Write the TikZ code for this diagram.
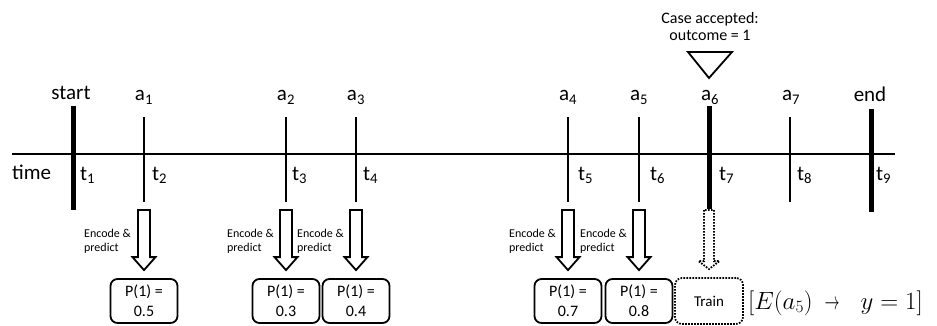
\documentclass[tikz,border=0pt]{standalone}
\usepackage{fontspec}
\setmainfont{Carlito}
\usepackage{tikz}
\usetikzlibrary{calc,positioning}
\tikzstyle{tick} = [line width=2pt]
\tikzstyle{bigtick} = [line width=5pt]
\tikzstyle{lab} = [inner sep=0pt, font=\fontsize{21}{24}\selectfont]
\tikzstyle{enc} = [inner sep=0pt, align=left, font=\fontsize{12}{14}\selectfont]
\tikzstyle{prob} = [draw, line width=1.8pt, rounded corners=7pt, minimum width=67pt, minimum height=44pt, inner sep=1pt, align=center, font=\fontsize{16}{20}\selectfont]
\tikzstyle{blockarrow} = [line width=1.8pt, line join=miter]

% hollow block arrow from a tick bottom down to a box
\newcommand{\encarrow}[3][]{%
  \draw[blockarrow,#1] ($(#2)+(-6,8)$) -- ($(#3.north)+(-6,-21)$) -- ($(#3.north)+(-11.5,-21)$)
    -- ($(#3.north)+(0,-8)$) -- ($(#3.north)+(11.5,-21)$) -- ($(#3.north)+(6,-21)$)
    -- ($(#2)+(6,8)$) -- cycle;}

\begin{document}
\begin{tikzpicture}[x=1pt,y=-1pt]
\useasboundingbox (0,0) rectangle (937,326);

% Time axis
\coordinate (axL) at (12,154);
\coordinate (axR) at (895,154);
\draw[line width=2.5pt] (axL) -- (axR);
\node[lab, anchor=base west] (time) at (12,179) {time};

% Ticks
\coordinate (tstart) at (73,106);  \coordinate (bstart) at (73,210);
\coordinate (ta1) at (144,117);    \coordinate (ba1) at (144,202);
\coordinate (ta2) at (286,117);    \coordinate (ba2) at (286,202);
\coordinate (ta3) at (356,117);    \coordinate (ba3) at (356,202);
\coordinate (ta4) at (568,117);    \coordinate (ba4) at (568,202);
\coordinate (ta5) at (639,117);    \coordinate (ba5) at (639,202);
\coordinate (ta6) at (709,106);    \coordinate (ba6) at (709,209);
\coordinate (ta7) at (790,117);    \coordinate (ba7) at (790,202);
\coordinate (tend) at (871,109);   \coordinate (bend) at (871,212);

\draw[bigtick] (tstart) -- (bstart);
\draw[tick] (ta1) -- (ba1);
\draw[tick] (ta2) -- (ba2);
\draw[tick] (ta3) -- (ba3);
\draw[tick] (ta4) -- (ba4);
\draw[tick] (ta5) -- (ba5);
\draw[bigtick] (ta6) -- (ba6);
\draw[tick] (ta7) -- (ba7);
\draw[bigtick] (tend) -- (bend);

% Event labels
\node[lab, anchor=base] (start) at (71,100) {start};
\node[lab, anchor=base] (a1) at (144,101) {a\textsubscript{1}};
\node[lab, anchor=base] (a2) at (286,101) {a\textsubscript{2}};
\node[lab, anchor=base] (a3) at (356,101) {a\textsubscript{3}};
\node[lab, anchor=base] (a4) at (568,101) {a\textsubscript{4}};
\node[lab, anchor=base] (a5) at (639,101) {a\textsubscript{5}};
\node[lab, anchor=base] (a6) at (710,101) {a\textsubscript{6}};
\node[lab, anchor=base] (a7) at (791,101) {a\textsubscript{7}};
\node[lab, anchor=base] (end) at (870,102) {end};

% Time stamps
\node[lab, anchor=base west] (t1) at (80,180) {t\textsubscript{1}};
\node[lab, anchor=base west] (t2) at (152,180) {t\textsubscript{2}};
\node[lab, anchor=base west] (t3) at (292,180) {t\textsubscript{3}};
\node[lab, anchor=base west] (t4) at (363,180) {t\textsubscript{4}};
\node[lab, anchor=base west] (t5) at (578,180) {t\textsubscript{5}};
\node[lab, anchor=base west] (t6) at (650,180) {t\textsubscript{6}};
\node[lab, anchor=base west] (t7) at (719,180) {t\textsubscript{7}};
\node[lab, anchor=base west] (t8) at (797,180) {t\textsubscript{8}};
\node[lab, anchor=base west] (t9) at (876,180) {t\textsubscript{9}};

% Prediction boxes
\node[prob] (pr1) at (144,301) {P(1) =\\0.5};
\node[prob] (pr2) at (286,301) {P(1) =\\0.3};
\node[prob] (pr3) at (356,301) {P(1) =\\0.4};
\node[prob] (pr4) at (568,301) {P(1) =\\0.7};
\node[prob] (pr5) at (639,301) {P(1) =\\0.8};

% Encode & predict arrows
\encarrow{ba1}{pr1}
\encarrow{ba2}{pr2}
\encarrow{ba3}{pr3}
\encarrow{ba4}{pr4}
\encarrow{ba5}{pr5}
\node[enc, anchor=east] (enc1) at (131,241) {Encode \&\\predict};
\node[enc, anchor=east] (enc2) at (274,241) {Encode \&\\predict};
\node[enc, anchor=east] (enc3) at (344,241) {Encode \&\\predict};
\node[enc, anchor=east] (enc4) at (556,241) {Encode \&\\predict};
\node[enc, anchor=east] (enc5) at (627,241) {Encode \&\\predict};

% Training step at a6
\node[prob, dash pattern=on 1.6pt off 1.4pt, minimum width=68pt, minimum height=46pt, font=\fontsize{15}{18}\selectfont] (train) at (709,301) {Train};
\draw[blockarrow, dash pattern=on 1.6pt off 1.4pt] ($(ba6)+(-5,1)$) -- ($(train.north)+(-5,-16)$) -- ($(train.north)+(-10.5,-16)$)
  -- ($(train.north)+(0,-8)$) -- ($(train.north)+(10.5,-16)$) -- ($(train.north)+(5,-16)$)
  -- ($(ba6)+(5,1)$) -- cycle;
\node[anchor=west, inner sep=0pt, font=\fontsize{25}{28}\selectfont] (rule) at (748,303)
  {$[E(a_5)$\hspace{12pt}\scalebox{0.6}[1]{$\rightarrow$}\hspace{21pt}$y=1]$};

% Case accepted marker
\coordinate (triL) at (688,52);
\coordinate (triR) at (732,52);
\coordinate (triT) at (709,78);
\draw[line width=1.8pt, line join=miter] (triL) -- (triR) -- (triT) -- cycle;
\node[inner sep=0pt, align=center, font=\fontsize{16}{17}\selectfont] (accept) at (710,27) {Case accepted:\\outcome = 1};

\end{tikzpicture}
\end{document}
